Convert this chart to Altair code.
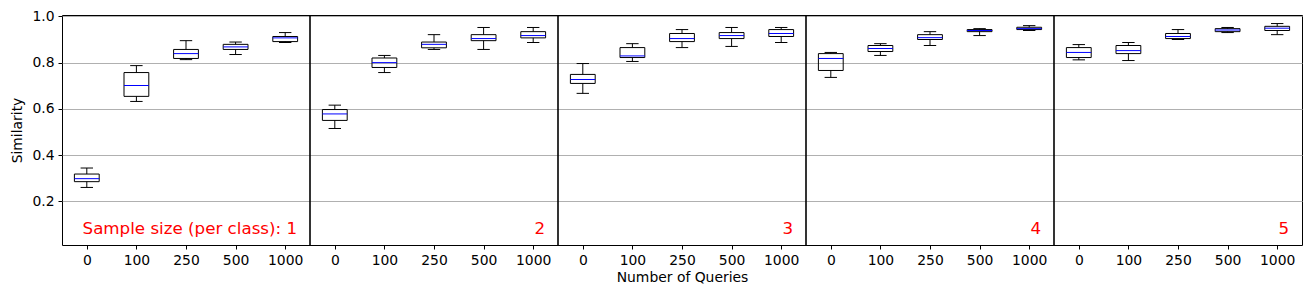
import altair as alt
import pandas as pd

queries = ["0", "100", "250", "500", "1000"]
sample_sizes = [1, 2, 3, 4, 5]
size_labels = ["Sample size (per class): 1", "2", "3", "4", "5"]

whisker_low = [
    0.260, 0.632, 0.813, 0.835, 0.887,
    0.515, 0.757, 0.857, 0.857, 0.887,
    0.667, 0.805, 0.865, 0.870, 0.887,
    0.736, 0.831, 0.874, 0.917, 0.939,
    0.812, 0.809, 0.900, 0.930, 0.921,
]
q1 = [
    0.285, 0.654, 0.818, 0.857, 0.891,
    0.550, 0.779, 0.864, 0.895, 0.907,
    0.710, 0.822, 0.891, 0.904, 0.913,
    0.766, 0.848, 0.900, 0.934, 0.943,
    0.822, 0.839, 0.904, 0.934, 0.939,
]
median = [
    0.298, 0.701, 0.839, 0.868, 0.907,
    0.578, 0.800, 0.879, 0.904, 0.917,
    0.727, 0.829, 0.904, 0.917, 0.926,
    0.818, 0.861, 0.908, 0.939, 0.947,
    0.844, 0.852, 0.913, 0.941, 0.949,
]
q3 = [
    0.318, 0.757, 0.857, 0.879, 0.913,
    0.597, 0.820, 0.889, 0.921, 0.934,
    0.749, 0.865, 0.926, 0.930, 0.943,
    0.839, 0.874, 0.921, 0.943, 0.953,
    0.865, 0.874, 0.926, 0.947, 0.957,
]
whisker_high = [
    0.344, 0.787, 0.895, 0.889, 0.930,
    0.616, 0.831, 0.921, 0.952, 0.952,
    0.796, 0.882, 0.943, 0.952, 0.952,
    0.844, 0.882, 0.934, 0.947, 0.960,
    0.878, 0.887, 0.943, 0.952, 0.969,
]

rows = []
for g, s in enumerate(sample_sizes):
    for j, q in enumerate(queries):
        k = g * len(queries) + j
        rows.append(dict(idx=k, size=s, queries=q, lo=whisker_low[k], q1=q1[k],
                         med=median[k], q3=q3[k], hi=whisker_high[k]))
df = pd.DataFrame(rows)

n = len(queries)
sep_df = pd.DataFrame({"sep": [g * n - 0.5 for g in range(1, len(sample_sizes))]})
lab_df = pd.DataFrame({"label": size_labels, "group": list(range(len(sample_sizes)))})

FONT = "DejaVu Sans"
xs = alt.Scale(domain=[-0.5, len(df) - 0.5], nice=False, zero=False)
ys = alt.Scale(domain=[0.011, 1.006], nice=False, zero=False)

label_expr = "[" + ",".join("'%s'" % q for q in queries) + "][datum.value % " + str(n) + "]"

xaxis = alt.Axis(
    values=list(range(len(df))), labelExpr=label_expr, title="Number of Queries",
    grid=False, domain=False, tickColor="black", tickSize=4, labelPadding=4,
    labelFontSize=13.9, labelColor="black", labelFont=FONT,
    titleFont=FONT, titleFontSize=13.9, titleFontWeight="normal", titleColor="black",
    titlePadding=4, labelFlush=False)
yaxis = alt.Axis(
    values=[0.2, 0.4, 0.6, 0.8, 1.0], format=".1f", title="Similarity",
    grid=True, gridColor="#b0b0b0", gridWidth=1, domain=False,
    tickColor="black", tickSize=4, labelPadding=4,
    labelFontSize=13.9, labelColor="black", labelFont=FONT,
    titleFont=FONT, titleFontSize=13.9, titleFontWeight="normal", titleColor="black",
    titlePadding=7)


def X(f):
    return alt.X(f, type="quantitative", scale=xs, axis=xaxis)


def Y(f):
    return alt.Y(f, type="quantitative", scale=ys, axis=yaxis)


base = alt.Chart(df).transform_calculate(
    left="datum.idx - 0.25", right="datum.idx + 0.25",
    capl="datum.idx - 0.125", capr="datum.idx + 0.125",
)

whisk_lo = base.mark_rule(color="black", strokeWidth=1).encode(x=X("idx"), y=Y("lo"), y2="q1:Q")
whisk_hi = base.mark_rule(color="black", strokeWidth=1).encode(x=X("idx"), y=Y("q3"), y2="hi:Q")
cap_lo = base.mark_rule(color="black", strokeWidth=1).encode(x=X("capl"), x2="capr:Q", y=Y("lo"))
cap_hi = base.mark_rule(color="black", strokeWidth=1).encode(x=X("capl"), x2="capr:Q", y=Y("hi"))
box = base.mark_rect(fillOpacity=0, stroke="black", strokeWidth=1).encode(
    x=X("left"), x2="right:Q", y=Y("q1"), y2="q3:Q")
med = base.mark_rule(color="blue", strokeWidth=1).encode(x=X("left"), x2="right:Q", y=Y("med"))

seps = alt.Chart(sep_df).mark_rule(color="black", strokeWidth=1.6).encode(
    x=X("sep"), y=alt.value(0), y2=alt.value(230))

labels = alt.Chart(lab_df).transform_calculate(
    xpos="datum.group * %d + %d + 0.24" % (n, n - 1), ypos="0.058"
).mark_text(color="red", align="right", baseline="alphabetic", font=FONT, fontSize=16.7).encode(
    x=X("xpos"), y=Y("ypos"), text="label:N")

chart = alt.layer(whisk_lo, whisk_hi, cap_lo, cap_hi, box, med, seps, labels).properties(
    width=1240, height=230,
    background="white",
    autosize=alt.AutoSizeParams(type="none"),
    padding={"left": 54, "top": 7, "right": 1, "bottom": 50},
).configure_view(stroke="black", strokeWidth=1)

chart.save("out.html", embed_options={"renderer": "svg", "actions": False})
